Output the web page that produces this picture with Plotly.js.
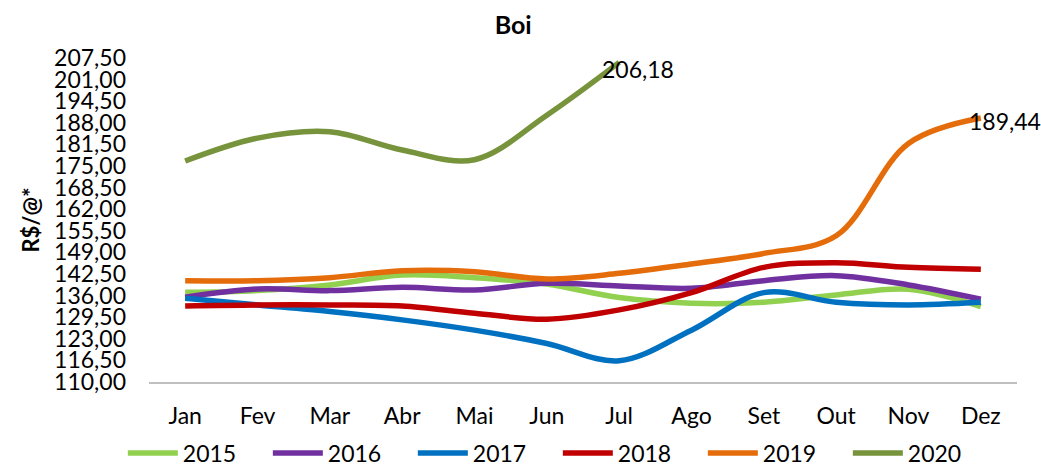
<!DOCTYPE html>
<html>
<head>
<meta charset="utf-8">
<script src="https://cdn.plot.ly/plotly-3.0.1.min.js"></script>
<style>
  html, body { margin: 0; padding: 0; background: #fff; }
  #chart { width: 1041px; height: 467px; }
</style>
</head>
<body>
<div id="chart"></div>
<script>
const months = ['Jan','Fev','Mar','Abr','Mai','Jun','Jul','Ago','Set','Out','Nov','Dez'];
const yTicks = [110,116.5,123,129.5,136,142.5,149,155.5,162,168.5,175,181.5,188,194.5,201,207.5];

const v2015 = [137.0,137.5,139.2,142.2,141.4,139.5,135.4,133.7,134.0,136.2,137.9,132.7];
const v2016 = [135.5,138.0,137.5,138.5,137.7,139.7,138.9,138.2,140.5,142.0,139.2,134.9];
const v2017 = [135.2,133.2,131.2,128.7,125.6,121.6,116.4,125.6,136.9,134.0,133.2,134.0];
const v2018 = [132.9,133.2,133.2,132.9,130.7,128.9,131.7,136.9,144.5,145.9,144.5,143.9];
const v2019 = [140.5,140.5,141.4,143.5,143.2,141.0,142.7,145.5,148.7,154.0,181.8,189.44];
const v2020 = [176.5,183.4,185.3,179.8,176.9,190.3,206.18];

const seriesNames = ['2015','2016','2017','2018','2019','2020'];
const seriesValues = [v2015, v2016, v2017, v2018, v2019, v2020];
const seriesColors = ['#92D050','#7030A0','#0070C0','#C00000','#E46C0A','#77933C'];

const FONT = 'Lato, "Open Sans", sans-serif';

const traces = seriesNames.map((name, i) => ({
  type: 'scatter',
  mode: 'lines',
  name: name,
  x: months.slice(0, seriesValues[i].length),
  y: seriesValues[i],
  line: { color: seriesColors[i], width: 5.5, shape: 'spline', smoothing: 1 },
  hoverinfo: 'skip'
}));

function fmt(v) { return v.toFixed(2).replace('.', ','); }

const last2020 = v2020.length - 1;
const last2019 = v2019.length - 1;

const annotations = [
  { x: months[last2020], y: v2020[last2020], xref: 'x', yref: 'y', text: fmt(v2020[last2020]),
    showarrow: false, xanchor: 'center', yanchor: 'middle', xshift: 19, yshift: -7,
    font: { family: FONT, size: 23, color: '#000' } },
  { x: months[last2019], y: v2019[last2019], xref: 'x', yref: 'y', text: fmt(v2019[last2019]),
    showarrow: false, xanchor: 'center', yanchor: 'middle', xshift: 24, yshift: -3,
    font: { family: FONT, size: 23, color: '#000' } }
];

const layout = {
  width: 1041, height: 467,
  margin: { l: 149, r: 24, t: 58, b: 85, pad: 0, autoexpand: false },
  paper_bgcolor: '#fff', plot_bgcolor: '#fff',
  separators: ',.',
  font: { family: FONT, size: 23, color: '#000' },
  title: { text: '<b>Boi</b>', xref: 'container', yref: 'container', x: 0.493, y: 0.946,
           xanchor: 'center', yanchor: 'middle', font: { family: FONT, size: 25, color: '#000' } },
  xaxis: {
    type: 'category', categoryorder: 'array', categoryarray: months,
    range: [-0.5, 11.5], showgrid: false, zeroline: false,
    showline: true, linecolor: '#BFBFBF', linewidth: 1.5,
    ticks: '', ticklabelstandoff: 13, automargin: false,
    tickfont: { family: FONT, size: 23, color: '#000' }, fixedrange: true
  },
  yaxis: {
    range: [110, 207.5], tickmode: 'array', tickvals: yTicks,
    ticktext: yTicks.map(fmt),
    showgrid: false, zeroline: false, showline: false, ticks: '',
    ticklabelstandoff: 22, automargin: false,
    tickfont: { family: FONT, size: 23, color: '#000' },
    title: { text: '<b>R$/@*</b>', standoff: 8, font: { family: FONT, size: 22, color: '#000' } },
    fixedrange: true
  },
  showlegend: true,
  legend: {
    orientation: 'h', xref: 'container', yref: 'container',
    x: 0.118, xanchor: 'left', y: 0.03, yanchor: 'middle',
    itemwidth: 50, entrywidth: 80, entrywidthmode: 'pixels', traceorder: 'normal',
    font: { family: FONT, size: 23, color: '#000' }, bgcolor: 'rgba(0,0,0,0)'
  },
  annotations: annotations
};

Plotly.newPlot('chart', traces, layout, { displayModeBar: false, staticPlot: true });
</script>
</body>
</html>
